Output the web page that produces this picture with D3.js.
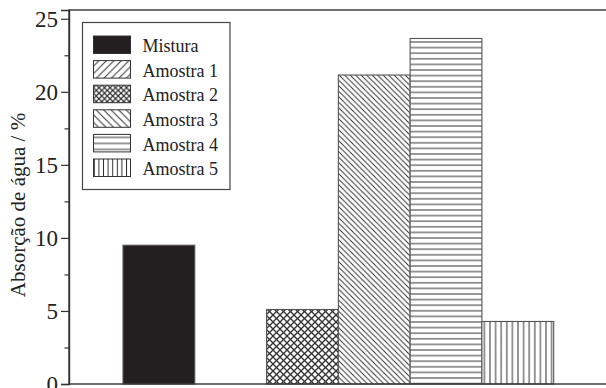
<!DOCTYPE html>
<html>
<head>
<meta charset="utf-8">
<script src="https://cdn.jsdelivr.net/npm/d3@7"></script>
<style>
  html, body { margin: 0; padding: 0; background: #fff; }
  svg { display: block; }
  text { font-family: "Liberation Serif", "DejaVu Serif", serif; fill: #222; }
</style>
</head>
<body>
<svg id="chart" width="606" height="388"></svg>
<script>
// Water absorption per sample
const categories = ["Mistura", "Amostra 1", "Amostra 2", "Amostra 3", "Amostra 4", "Amostra 5"];
const values = [9.5, 0, 5.1, 21.15, 23.65, 4.28];
const yTicks = [0, 5, 10, 15, 20, 25];
const yMinorTicks = [2.5, 7.5, 12.5, 17.5, 22.5];
const yLabel = "Absorção de água / %";

const svg = d3.select("#chart");
const W = 606, H = 388;
const margin = { left: 69, top: 10, bottom: 4 };
const plotRight = 640; // frame continues past the right edge

const y = d3.scaleLinear().domain([0, 25.6]).range([H - margin.bottom, margin.top]);
const x = d3.scaleBand().domain(categories).range([123, 553.7]).padding(0);

// hatch patterns: kind -> line geometry
const defs = svg.append("defs");
function makePattern(id, kind, step, sw) {
  const p = defs.append("pattern")
    .attr("id", id)
    .attr("patternUnits", "userSpaceOnUse")
    .attr("width", step).attr("height", step);
  p.append("rect").attr("width", step).attr("height", step).attr("fill", "#fff");
  const line = (x1, y1, x2, y2) => p.append("line")
    .attr("x1", x1).attr("y1", y1).attr("x2", x2).attr("y2", y2)
    .attr("stroke", "#333").attr("stroke-width", sw);
  if (kind === "solid") {
    p.select("rect").attr("fill", "#231f20");
  } else if (kind === "h") {
    line(0, step / 2, step, step / 2);
  } else if (kind === "v") {
    line(step / 2, 0, step / 2, step);
  } else if (kind === "fwd") {
    line(0, step, step, 0);
    line(-step, step, step, -step);
    line(0, 2 * step, 2 * step, 0);
  } else if (kind === "back") {
    line(0, 0, step, step);
    line(-step, 0, step, 2 * step);
    line(0, -step, 2 * step, step);
  } else if (kind === "cross") {
    line(0, step, step, 0);
    line(-step, step, step, -step);
    line(0, 2 * step, 2 * step, 0);
    line(0, 0, step, step);
    line(-step, 0, step, 2 * step);
    line(0, -step, 2 * step, step);
  }
  return "url(#" + id + ")";
}

const kinds = ["solid", "fwd", "cross", "back", "h", "v"];
const barSteps = [4, 6, 7, 5.5, 5.6, 5.6];
const legendSteps = [4, 7.5, 5.5, 7.5, 6, 4.6];
const barFill = kinds.map((k, i) => makePattern("bar" + i, k, barSteps[i], k === "cross" ? 1.3 : 1));
const legFill = kinds.map((k, i) => makePattern("leg" + i, k, legendSteps[i], k === "cross" ? 1.2 : 1));

// bars
svg.append("g").selectAll("rect")
  .data(categories)
  .join("rect")
  .attr("x", d => x(d))
  .attr("width", x.bandwidth())
  .attr("y", (d, i) => y(values[i]))
  .attr("height", (d, i) => y(0) - y(values[i]))
  .attr("fill", (d, i) => barFill[i])
  .attr("stroke", "#555")
  .attr("stroke-width", 1.1);

// frame
svg.append("rect")
  .attr("x", margin.left).attr("y", y(25.6))
  .attr("width", plotRight - margin.left).attr("height", y(0) - y(25.6))
  .attr("fill", "none").attr("stroke", "#333").attr("stroke-width", 1.4);

// y axis
const yAxis = svg.append("g")
  .attr("transform", `translate(${margin.left},0)`)
  .call(d3.axisLeft(y).tickValues(yTicks).tickSize(8).tickPadding(3).tickFormat(d3.format("d")));
yAxis.select(".domain").attr("stroke", "#333").attr("stroke-width", 1.4);
yAxis.selectAll(".tick line").attr("stroke", "#333").attr("stroke-width", 1.2);
yAxis.selectAll(".tick text")
  .style("font-family", "'Liberation Serif', serif")
  .style("font-size", "23px")
  .attr("fill", "#222");

const yMinor = svg.append("g")
  .attr("transform", `translate(${margin.left},0)`)
  .call(d3.axisLeft(y).tickValues(yMinorTicks).tickSize(4.5).tickFormat(""));
yMinor.select(".domain").remove();
yMinor.selectAll(".tick line").attr("stroke", "#333").attr("stroke-width", 1.2);

// y label
svg.append("text")
  .attr("transform", `translate(25,205) rotate(-90)`)
  .attr("text-anchor", "middle")
  .style("font-size", "21px")
  .text(yLabel);

// legend
const lg = svg.append("g");
lg.append("rect")
  .attr("x", 82.5).attr("y", 22.5).attr("width", 147.5).attr("height", 167)
  .attr("fill", "#fff").attr("stroke", "#444").attr("stroke-width", 1.2);
const rows = lg.selectAll("g.row").data(categories).join("g")
  .attr("class", "row")
  .attr("transform", (d, i) => `translate(0,${i * 24.6})`);
rows.append("rect")
  .attr("x", 93.5).attr("y", 36).attr("width", 37).attr("height", 17.5)
  .attr("fill", (d, i) => legFill[i])
  .attr("stroke", "#333").attr("stroke-width", 1);
rows.append("text")
  .attr("x", 142.5).attr("y", 52.3)
  .style("font-size", "18px")
  .text(d => d);
</script>
</body>
</html>
